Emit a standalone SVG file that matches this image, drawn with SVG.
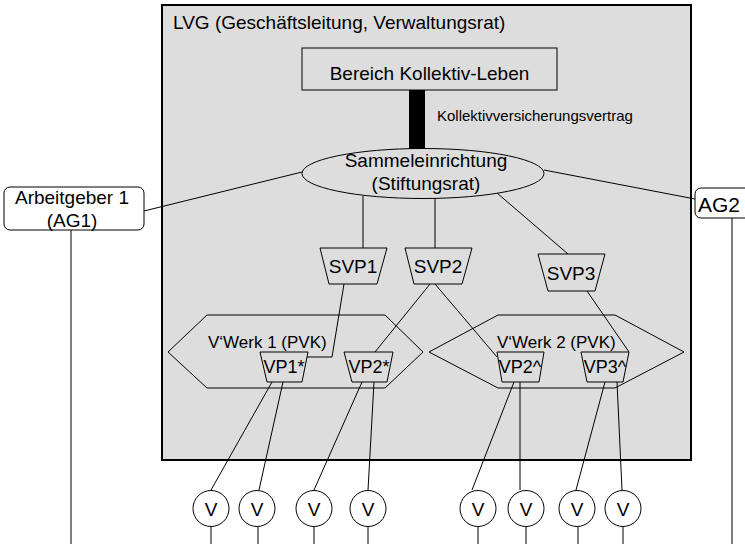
<svg xmlns="http://www.w3.org/2000/svg" width="745" height="544" viewBox="0 0 745 544">
<style>
text{font-family:"Liberation Sans",Arial,sans-serif;fill:#000}
.ln{stroke:#000;stroke-width:1;fill:none}
.box{fill:#dddddd;stroke:#000;stroke-width:1}
.wb{fill:#fff;stroke:#000;stroke-width:1}
.t19{font-size:19px}
.t18{font-size:18px}
.t17{font-size:17px}
.t15{font-size:15px}
.c{text-anchor:middle}
</style>
<rect width="745" height="544" fill="#fff"/>
<g id="lvg">
<rect x="162" y="5" width="529" height="455" fill="#dddddd" stroke="#000" stroke-width="2"/>
<text class="t19" x="173" y="29">LVG (Geschäftsleitung, Verwaltungsrat)</text>
</g>
<g id="connectors">
<rect x="409" y="90" width="16" height="60" fill="#000"/>
<text class="t15" x="437" y="121">Kollektivversicherungsvertrag</text>
<line class="ln" x1="144" y1="211" x2="302" y2="172"/>
<line class="ln" x1="544" y1="170" x2="695" y2="199"/>
<line class="ln" x1="363" y1="196" x2="363" y2="248"/>
<line class="ln" x1="435" y1="198" x2="435" y2="248"/>
<line class="ln" x1="497" y1="193" x2="568" y2="254"/>
<polyline class="ln" points="344,284 332,357 307,357"/>
<line class="ln" x1="430" y1="284" x2="375" y2="352"/>
<line class="ln" x1="435" y1="284" x2="497" y2="357"/>
<line class="ln" x1="587" y1="291" x2="629" y2="352"/>
<line class="ln" x1="272" y1="382" x2="211" y2="490"/>
<line class="ln" x1="283" y1="382" x2="259" y2="490"/>
<line class="ln" x1="362" y1="382" x2="314" y2="490"/>
<line class="ln" x1="374" y1="382" x2="368" y2="490"/>
<line class="ln" x1="514" y1="382" x2="472" y2="490"/>
<line class="ln" x1="520" y1="382" x2="520" y2="490"/>
<line class="ln" x1="605" y1="382" x2="576" y2="490"/>
<line class="ln" x1="617" y1="382" x2="622" y2="490"/>
<line class="ln" x1="71" y1="230" x2="71" y2="544"/>
<line class="ln" x1="732" y1="218" x2="732" y2="544"/>
<line class="ln" x1="211" y1="527" x2="211" y2="544"/>
<line class="ln" x1="258" y1="527" x2="258" y2="544"/>
<line class="ln" x1="314" y1="527" x2="314" y2="544"/>
<line class="ln" x1="368" y1="527" x2="368" y2="544"/>
<line class="ln" x1="478" y1="527" x2="478" y2="544"/>
<line class="ln" x1="526" y1="527" x2="526" y2="544"/>
<line class="ln" x1="578" y1="527" x2="578" y2="544"/>
<line class="ln" x1="623" y1="527" x2="623" y2="544"/>
</g>
<g id="bereich">
<rect class="box" x="302" y="48" width="255" height="42"/>
<text class="t19 c" x="429.5" y="80">Bereich Kollektiv-Leben</text>
</g>
<g id="sammel">
<ellipse class="box" cx="423" cy="173.5" rx="121" ry="25"/>
<text class="t19 c" x="426" y="167">Sammeleinrichtung</text>
<text class="t19 c" x="426" y="190">(Stiftungsrat)</text>
</g>
<g id="ag1">
<rect class="wb" x="4" y="187" width="140" height="43" rx="6"/>
<text class="t19 c" x="72" y="204">Arbeitgeber 1</text>
<text class="t19 c" x="72" y="227">(AG1)</text>
</g>
<g id="ag2">
<rect class="wb" x="695" y="188" width="70" height="30" rx="6"/>
<text class="t19" x="698" y="212" style="font-size:21px">AG2</text>
</g>
<g id="svp1">
<polygon class="box" points="320,248 387,248 377,284 329,284"/>
<text class="t19 c" x="353" y="273">SVP1</text>
</g>
<g id="svp2">
<polygon class="box" points="405,248 472,248 462,284 414,284"/>
<text class="t19 c" x="438" y="273">SVP2</text>
</g>
<g id="svp3">
<polygon class="box" points="538,254 605,254 595,291 548,291"/>
<text class="t19 c" x="571" y="280">SVP3</text>
</g>
<g id="vwerk1">
<polygon class="ln" points="168,352 207,315 385,315 423,352 385,388 207,388"/>
<text class="t17" x="208" y="348">V‘Werk 1 (PVK)</text>
</g>
<g id="vwerk2">
<polygon class="ln" points="429,352 498,315 615,315 684,352 615,388 498,388"/>
<text class="t17" x="497" y="348">V‘Werk 2 (PVK)</text>
</g>
<g id="vp1">
<polygon class="box" points="260,352 308,352 302,382 267,382"/>
<text class="t18 c" x="284" y="373">VP1*</text>
</g>
<g id="vp2s">
<polygon class="box" points="344,352 393,352 387,382 352,382"/>
<text class="t18 c" x="369" y="373">VP2*</text>
</g>
<g id="vp2c">
<polygon class="box" points="497,352 544,352 539,382 502,382"/>
<text class="t18 c" x="520" y="373">VP2^</text>
</g>
<g id="vp3c">
<polygon class="box" points="581,352 629,352 623,382 587,382"/>
<text class="t18 c" x="605" y="373">VP3^</text>
</g>
<g id="v1"><circle class="wb" cx="211" cy="508.5" r="18"/><text class="t19 c" x="211" y="516">V</text></g>
<g id="v2"><circle class="wb" cx="257" cy="508.5" r="18"/><text class="t19 c" x="257" y="516">V</text></g>
<g id="v3"><circle class="wb" cx="314" cy="508.5" r="18"/><text class="t19 c" x="314" y="516">V</text></g>
<g id="v4"><circle class="wb" cx="368" cy="508.5" r="18"/><text class="t19 c" x="368" y="516">V</text></g>
<g id="v5"><circle class="wb" cx="478" cy="508.5" r="18"/><text class="t19 c" x="478" y="516">V</text></g>
<g id="v6"><circle class="wb" cx="526" cy="508.5" r="18"/><text class="t19 c" x="526" y="516">V</text></g>
<g id="v7"><circle class="wb" cx="577" cy="508.5" r="18"/><text class="t19 c" x="577" y="516">V</text></g>
<g id="v8"><circle class="wb" cx="623" cy="508.5" r="18"/><text class="t19 c" x="623" y="516">V</text></g>
</svg>
